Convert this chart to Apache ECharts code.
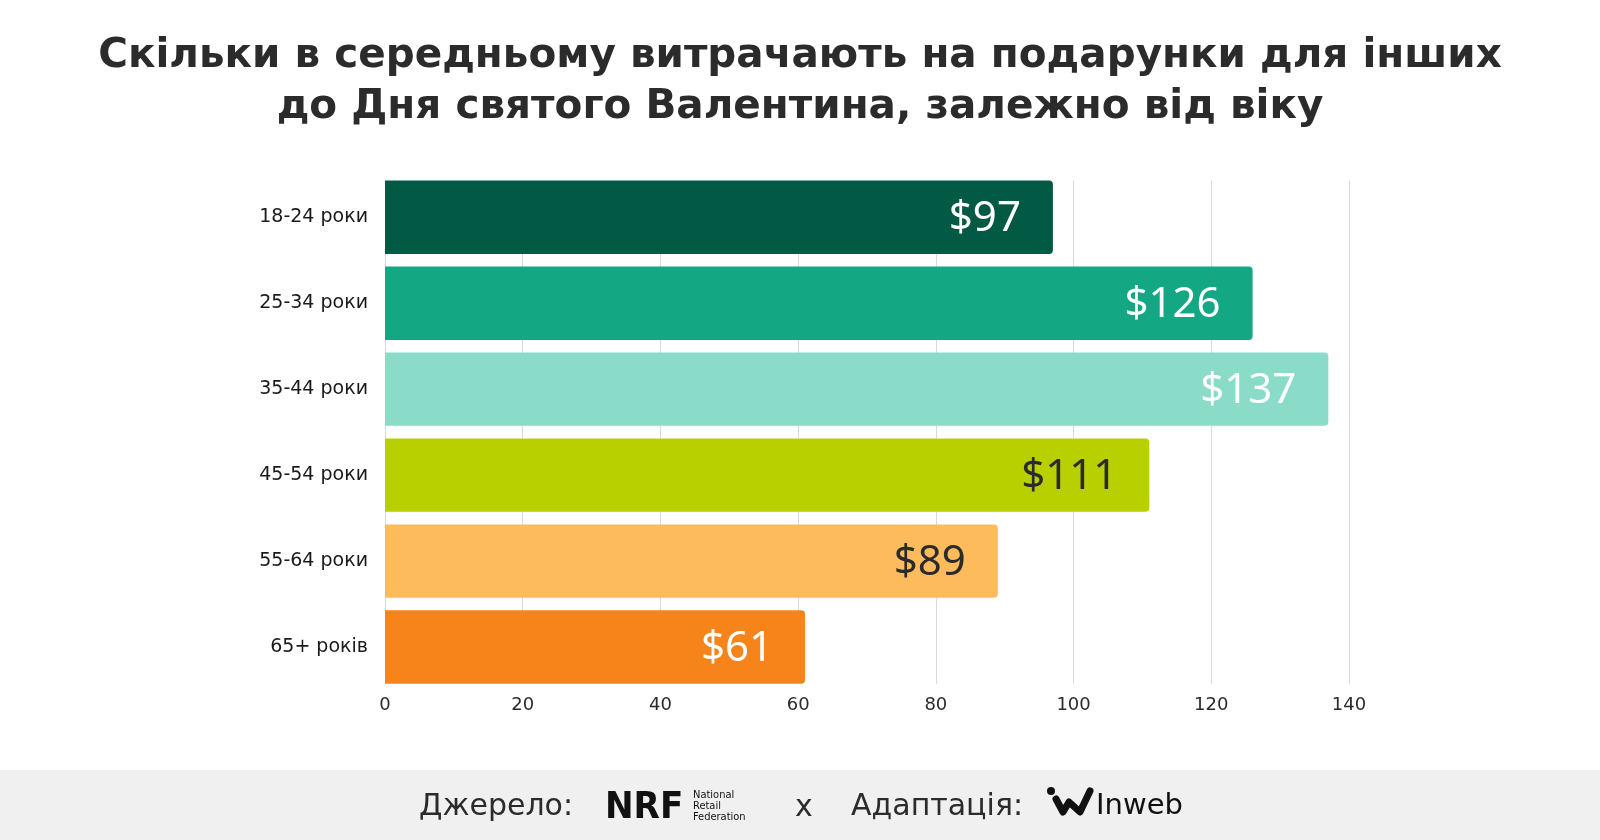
<!DOCTYPE html>
<html>
<head>
<meta charset="utf-8">
<script src="https://cdn.jsdelivr.net/npm/echarts@6/dist/echarts.min.js"></script>
<style>
html,body{margin:0;padding:0;background:#fff;}
#chart{width:1600px;height:840px;}
</style>
</head>
<body>
<div id="chart"></div>
<script>
const categories = ['18-24 роки','25-34 роки','35-44 роки','45-54 роки','55-64 роки','65+ років'];
const values = [97,126,137,111,89,61];
const barColors = ['#035a44','#13a883','#8adcc8','#b9d000','#fdbb5b','#f6841a'];
const labelColors = ['#ffffff','#ffffff','#ffffff','#2b2b2b','#2b2b2b','#ffffff'];
const titleText = 'Скільки в середньому витрачають на подарунки для інших\nдо Дня святого Валентина, залежно від віку';
const xMin = 0, xMax = 140, xStep = 20;

const chart = echarts.init(document.getElementById('chart'));
const font = '"Noto Sans", "Open Sans", sans-serif';
const dv = '"DejaVu Sans", sans-serif';

chart.setOption({
  backgroundColor: '#ffffff',
  animation: false,
  grid: [
    { left: 385, right: 251, top: 174.3, bottom: 150 },
    { left: 385, right: 251, top: 180.6, bottom: 156.3 }
  ],
  xAxis: [
    {
      type: 'value', gridIndex: 0,
      min: xMin, max: xMax, interval: xStep,
      axisLine: { show: false }, axisTick: { show: false },
      splitLine: { show: false }, axisLabel: { show: false }
    },
    {
      type: 'value', gridIndex: 1,
      min: xMin, max: xMax, interval: xStep,
      axisLine: { show: false }, axisTick: { show: false },
      splitLine: { show: true, showMinLine: true, lineStyle: { color: '#d9d9d9', width: 1 } },
      axisLabel: { color: '#2b2b2b', fontSize: 18, fontFamily: dv, margin: 13 }
    }
  ],
  yAxis: [
    {
      type: 'category', gridIndex: 0,
      data: categories,
      inverse: true,
      axisLine: { show: false },
      axisTick: { show: false },
      axisLabel: { color: '#1a1a1a', fontSize: 19, fontFamily: dv, margin: 17 }
    },
    {
      type: 'category', gridIndex: 1,
      data: categories,
      inverse: true,
      axisLine: { show: false }, axisTick: { show: false },
      axisLabel: { show: false }, splitLine: { show: false }
    }
  ],
  series: [{
    type: 'bar',
    xAxisIndex: 0, yAxisIndex: 0,
    data: values.map((v, i) => ({
      value: v,
      itemStyle: { color: barColors[i] },
      label: { color: labelColors[i] }
    })),
    barCategoryGap: '14.7%',
    z: 3,
    itemStyle: { borderRadius: [0, 4, 4, 0] },
    label: {
      show: true,
      position: 'insideRight',
      distance: 32,
      fontSize: 42,
      fontFamily: font,
      offset: [0, 2],
      formatter: p => '$' + p.value
    }
  }],
  graphic: [
    { type: 'text', x: 800, y: 31, style: { text: titleText, align: 'center', font: 'bold 40.5px "DejaVu Sans", sans-serif', lineHeight: 51, fill: '#2b2b2b' } },
    { type: 'rect', left: 0, top: 770, shape: { width: 1600, height: 70 }, style: { fill: '#f0f0f0' }, silent: true },
    { type: 'text', left: 419, top: 792, style: { text: 'Джерело:', font: '30px "DejaVu Sans", sans-serif', fill: '#2b2b2b' } },
    { type: 'text', left: 605, top: 789, style: { text: 'NRF', font: 'bold 38px "Liberation Sans Narrow", "DejaVu Sans Condensed", sans-serif', fill: '#111111' } },
    { type: 'text', left: 693, top: 790, style: { text: 'National\nRetail\nFederation', font: '11px "DejaVu Sans Condensed", sans-serif', lineHeight: 11, fill: '#111111' } },
    { type: 'text', left: 795, top: 793, style: { text: 'x', font: '30px "DejaVu Sans", sans-serif', fill: '#2b2b2b' } },
    { type: 'text', left: 851, top: 792, style: { text: 'Адаптація:', font: '30px "DejaVu Sans", sans-serif', fill: '#2b2b2b' } },
    { type: 'circle', shape: { cx: 1051, cy: 791, r: 4 }, style: { fill: '#111111' } },
    { type: 'polyline', shape: { points: [[1056, 799], [1063, 812], [1069, 802], [1080, 812], [1090, 791]] }, style: { stroke: '#111111', lineWidth: 7, lineCap: 'round', lineJoin: 'round', fill: null } },
    { type: 'text', left: 1096, top: 792, style: { text: 'Inweb', font: '29px "DejaVu Sans", sans-serif', fill: '#111111' } }
  ]
});
</script>
</body>
</html>
